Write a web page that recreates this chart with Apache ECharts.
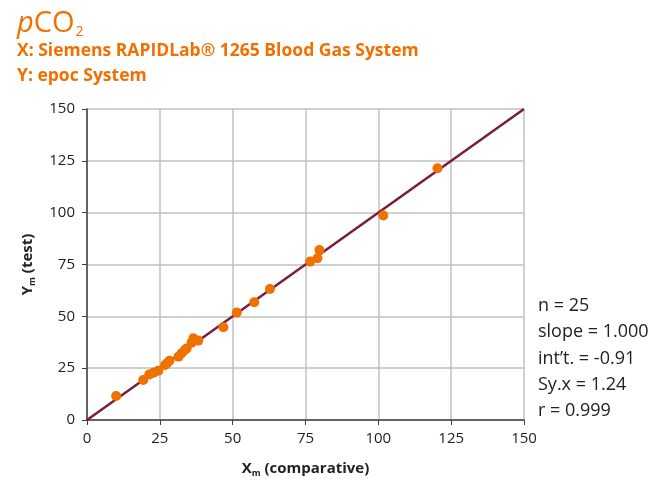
<!DOCTYPE html>
<html>
<head>
<meta charset="utf-8">
<script src="https://cdn.jsdelivr.net/npm/echarts@6/dist/echarts.min.js"></script>
<style>
  html, body { margin: 0; padding: 0; background: #fff; }
  #chart { width: 660px; height: 487px; }
</style>
</head>
<body>
<div id="chart"></div>
<script>
// comparative (x) vs test (y) pCO2 readings
var xVals = [10, 19.3, 21.4, 22.8, 24.5, 26.8, 27.4, 28.3, 31.4, 32.5, 33.6, 34.2, 35.9, 36.5, 37.0, 38.2, 46.8, 51.4, 57.4, 62.8, 76.6, 79.1, 79.8, 101.7, 120.3];
var yVals = [11.6, 19.3, 22, 22.8, 23.8, 26.5, 27.3, 28.6, 30.5, 32.2, 33.8, 34.5, 37.3, 39.4, 38.5, 38.3, 44.7, 51.8, 56.8, 63.2, 76.4, 78, 82, 98.6, 121.4];
var fitLine = [[0, 0], [150, 150]];
var axisTicks = [0, 25, 50, 75, 100, 125, 150];
var stats = ["n = 25", "slope = 1.000", "int\u2019t. = -0.91", "Sy.x = 1.24", "r = 0.999"];

var orange = "#f07000";
var font = "Open Sans";

var pts = [];
for (var i = 0; i < xVals.length; i++) pts.push([xVals[i], yVals[i]]);

var c = echarts.init(document.getElementById("chart"));

var axisCommon = {
    type: "value",
    min: axisTicks[0],
    max: axisTicks[axisTicks.length - 1],
    interval: 25,
    axisLine: { show: true, lineStyle: { color: "#404040", width: 1.5 } },
    axisTick: { show: true, length: 5, lineStyle: { color: "#404040" } },
    axisLabel: { color: "#222", fontFamily: font, fontSize: 15 },
    splitLine: { show: true, lineStyle: { color: "#c0c0c0", width: 1.5 } },
    nameLocation: "middle",
    nameTextStyle: {
        color: "#222",
        rich: {
            b: { fontFamily: font, fontWeight: "bold", fontSize: 15, color: "#222" },
            s: { fontFamily: font, fontWeight: "bold", fontSize: 9, color: "#222", verticalAlign: "bottom", padding: [9, 0, 0, 0] }
        }
    }
};

var m = {
    animation: false,
    grid: { left: 87, right: 136, top: 109, bottom: 67 },
    xAxis: Object.assign({}, axisCommon, {
        name: "{b|X}{s|m}{b| (comparative)}",
        nameGap: 40,
        axisLabel: Object.assign({}, axisCommon.axisLabel, { margin: 11 })
    }),
    yAxis: Object.assign({}, axisCommon, {
        name: "{b|Y}{s|m}{b| (test)}",
        nameGap: 50,
        axisLabel: Object.assign({}, axisCommon.axisLabel, { margin: 12 })
    }),
    graphic: [
        {
            type: "text", left: 17, top: 9,
            style: {
                text: "{i|p}{n|CO}{s|2}",
                rich: {
                    i: { fontFamily: font, fontStyle: "italic", fontSize: 29, fill: orange },
                    n: { fontFamily: font, fontSize: 29, fill: orange },
                    s: { fontFamily: font, fontSize: 14, fill: orange, verticalAlign: "bottom", padding: [18, 0, 0, 1] }
                }
            }
        },
        {
            type: "text", left: 17, top: 42,
            style: { text: "X: Siemens RAPIDLab\u00ae 1265 Blood Gas System", fontFamily: font, fontWeight: "bold", fontSize: 17.5, fill: orange }
        },
        {
            type: "text", left: 17, top: 67,
            style: { text: "Y: epoc System", fontFamily: font, fontWeight: "bold", fontSize: 17.5, fill: orange }
        },
        {
            type: "text", left: 538, top: 293,
            style: { text: stats.join("\n"), fontFamily: font, fontSize: 18, lineHeight: 26.2, fill: "#222" }
        }
    ],
    series: [
        {
            type: "line",
            data: fitLine,
            symbol: "none",
            lineStyle: { color: "#7a1d3c", width: 2.5 },
            z: 2
        },
        {
            type: "scatter",
            data: pts,
            symbolSize: 10,
            itemStyle: { color: orange, opacity: 1 },
            z: 3
        }
    ]
};
c.setOption(m);
</script>
</body>
</html>
